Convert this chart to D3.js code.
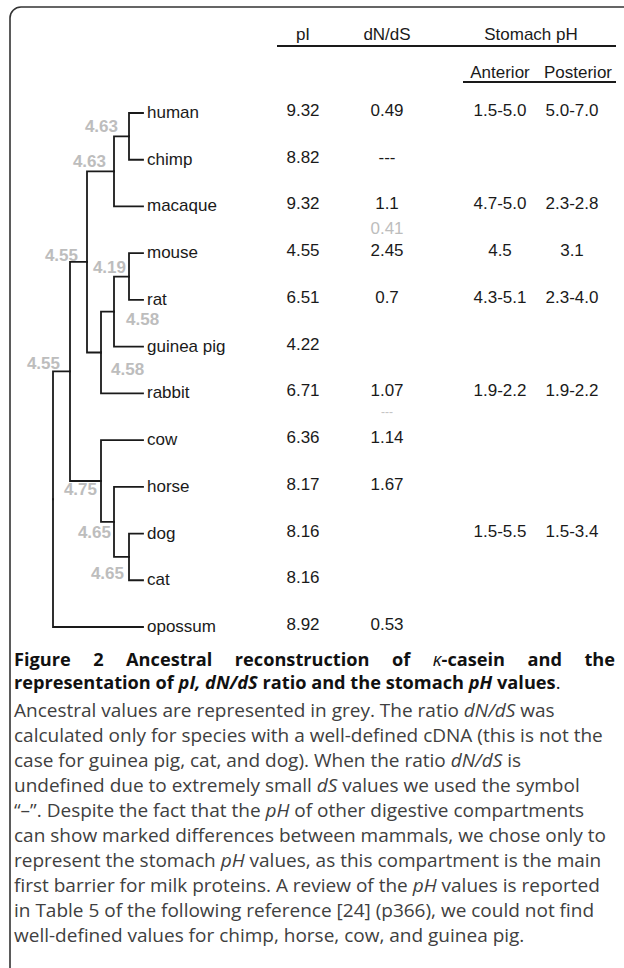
<!DOCTYPE html>
<html>
<head>
<meta charset="utf-8">
<script src="https://cdn.jsdelivr.net/npm/d3@7"></script>
<style>
  html, body { margin: 0; padding: 0; background: #fff; }
  svg { display: block; }
</style>
</head>
<body>
<svg id="chart" width="624" height="968"></svg>
<script>
// ---------------- DATA ----------------
const species = ["human", "chimp", "macaque", "mouse", "rat", "guinea pig", "rabbit", "cow", "horse", "dog", "cat", "opossum"];
const pI = ["9.32", "8.82", "9.32", "4.55", "6.51", "4.22", "6.71", "6.36", "8.17", "8.16", "8.16", "8.92"];
const dNdS = ["0.49", "---", "1.1", "2.45", "0.7", "", "1.07", "1.14", "1.67", "", "", "0.53"];
const phAnterior = ["1.5-5.0", "", "4.7-5.0", "4.5", "4.3-5.1", "", "1.9-2.2", "", "", "1.5-5.5", "", ""];
const phPosterior = ["5.0-7.0", "", "2.3-2.8", "3.1", "2.3-4.0", "", "1.9-2.2", "", "", "1.5-3.4", "", ""];
// ancestral dN/dS values (grey) shown between two rows: [value, rowAbove, rowBelow]
const ancestralDNdS = [["0.41", "macaque", "mouse"], ["---", "rabbit", "cow"]];

// tree topology: (((((human,chimp),macaque),(((mouse,rat),guinea pig),rabbit)),(cow,(horse,(dog,cat)))),opossum)
const tree = {id: "root", children: [
  {id: "A", children: [
    {id: "Euarchontoglires", children: [
      {id: "Primates", children: [
        {id: "HomPan", children: [{id: "human"}, {id: "chimp"}]},
        {id: "macaque"}]},
      {id: "Glires", children: [
        {id: "Rodentia", children: [
          {id: "Murinae", children: [{id: "mouse"}, {id: "rat"}]},
          {id: "guinea pig"}]},
        {id: "rabbit"}]}]},
    {id: "Laurasiatheria", children: [
      {id: "cow"},
      {id: "HorseCarn", children: [
        {id: "horse"},
        {id: "Carnivora", children: [{id: "dog"}, {id: "cat"}]}]}]}]},
  {id: "opossum"}]};
// ancestral pI reconstructed at internal nodes
const ancestralNodes = ["HomPan", "Primates", "Euarchontoglires", "Murinae", "Rodentia", "Glires", "A", "Laurasiatheria", "HorseCarn", "Carnivora"];
const ancestralPI = ["4.63", "4.63", "4.55", "4.19", "4.58", "4.58", "4.55", "4.75", "4.65", "4.65"];

const columns = ["pI", "dN/dS", "Anterior", "Posterior"];
const columnValues = [pI, dNdS, phAnterior, phPosterior];

// caption segments: [text, bold, italic]
const captionTitle = [
  [["Figure 2 Ancestral reconstruction of ", 1, 0], ["κ", 0, 1], ["-casein and the", 1, 0]],
  [["representation of ", 1, 0], ["pI, dN/dS", 1, 1], [" ratio and the stomach ", 1, 0], ["pH", 1, 1], [" values", 1, 0], [".", 0, 0]]
];
const captionBody = [
  [["Ancestral values are represented in grey. The ratio ", 0, 0], ["dN/dS", 0, 1], [" was", 0, 0]],
  [["calculated only for species with a well-defined cDNA (this is not the", 0, 0]],
  [["case for guinea pig, cat, and dog). When the ratio ", 0, 0], ["dN/dS", 0, 1], [" is", 0, 0]],
  [["undefined due to extremely small ", 0, 0], ["dS", 0, 1], [" values we used the symbol", 0, 0]],
  [["“–”. Despite the fact that the ", 0, 0], ["pH", 0, 1], [" of other digestive compartments", 0, 0]],
  [["can show marked differences between mammals, we chose only to", 0, 0]],
  [["represent the stomach ", 0, 0], ["pH", 0, 1], [" values, as this compartment is the main", 0, 0]],
  [["first barrier for milk proteins. A review of the ", 0, 0], ["pH", 0, 1], [" values is reported", 0, 0]],
  [["in Table 5 of the following reference [24] (p366), we could not find", 0, 0]],
  [["well-defined values for chimp, horse, cow, and guinea pig.", 0, 0]]
];

// ---------------- LAYOUT / STYLE ----------------
const FONT = "'Liberation Sans', Arial, sans-serif";
const CAPFONT = "'Open Sans', 'Noto Sans', sans-serif";
const FS = 17;
const GREY = "#bdbdbd";
const INK = "#1a1a1a";

const svg = d3.select("#chart");

// frame (rounded, open to the right/bottom like the cropped figure)
svg.append("rect")
  .attr("x", 10).attr("y", 7).attr("width", 700).attr("height", 1000)
  .attr("rx", 11).attr("ry", 11)
  .attr("fill", "none").attr("stroke", "#333").attr("stroke-width", 1.6);

// scales
const y = d3.scalePoint().domain(species).range([113, 627]);
const xHeight = d3.scaleLinear().domain([0, 1, 2, 3, 4, 5, 6]).range([143, 129, 114, 101, 87, 70, 53]);
const xCol = d3.scaleOrdinal().domain(columns).range([303, 387, 500, 572]);

// tree
const root = d3.hierarchy(tree);
root.eachAfter(n => {
  n.px = xHeight(n.height);
  if (!n.children) n.py = y(n.data.id);
  else n.py = (n.children[0].py + n.children[n.children.length - 1].py) / 2;
});

const gTree = svg.append("g");
gTree.selectAll("path.link")
  .data(root.descendants().filter(d => d.parent))
  .join("path")
  .attr("class", "link")
  .attr("d", d => `M${d.parent.px},${d.parent.py}V${d.py}H${d.px}`)
  .attr("fill", "none")
  .attr("stroke", INK)
  .attr("stroke-width", 1.8)
  .attr("stroke-linecap", "square");

gTree.selectAll("text.leaf")
  .data(root.leaves())
  .join("text")
  .attr("class", "leaf")
  .attr("x", d => d.px + 4)
  .attr("y", d => d.py + 5)
  .attr("font-family", FONT).attr("font-size", FS).attr("fill", INK)
  .text(d => d.data.id);

// ancestral pI labels: offsets [dx, dy(center), anchor]
const labelOffsets = {
  HomPan: [-11, -10, "end"], Primates: [-8, -10, "end"], Euarchontoglires: [-9, -7, "end"],
  Murinae: [-3, -10, "end"], Rodentia: [12, 7, "start"], Glires: [10, 17, "start"],
  A: [-10, -8, "end"], Laurasiatheria: [-4, 8, "end"], HorseCarn: [-3, 10, "end"], Carnivora: [-5, 16, "end"]
};
const nodeById = new Map(root.descendants().map(n => [n.data.id, n]));
gTree.selectAll("text.anc")
  .data(ancestralNodes.map((id, i) => ({id, v: ancestralPI[i], n: nodeById.get(id)})))
  .join("text")
  .attr("class", "anc")
  .attr("x", d => d.n.px + labelOffsets[d.id][0])
  .attr("y", d => d.n.py + labelOffsets[d.id][1] + 6)
  .attr("text-anchor", d => labelOffsets[d.id][2])
  .attr("font-family", FONT).attr("font-size", FS).attr("font-weight", "bold").attr("fill", GREY)
  .text(d => d.v);

// table header
const gHead = svg.append("g").attr("font-family", FONT).attr("font-size", FS).attr("fill", INK).attr("text-anchor", "middle");
gHead.append("text").attr("x", xCol("pI")).attr("y", 40).text("pI");
gHead.append("text").attr("x", xCol("dN/dS")).attr("y", 40).text("dN/dS");
gHead.append("text").attr("x", 531).attr("y", 40).text("Stomach pH");
gHead.append("text").attr("x", xCol("Anterior")).attr("y", 78).text("Anterior");
gHead.append("text").attr("x", xCol("Posterior") + 6).attr("y", 78).text("Posterior");
gHead.append("line").attr("x1", 277).attr("x2", 616).attr("y1", 46).attr("y2", 46).attr("stroke", INK).attr("stroke-width", 1.8);
gHead.append("line").attr("x1", 463).attr("x2", 616).attr("y1", 82).attr("y2", 82).attr("stroke", INK).attr("stroke-width", 1.8);

// table values
const cells = [];
columns.forEach((c, ci) => species.forEach((s, si) => {
  const v = columnValues[ci][si];
  if (v) cells.push({c, s, v});
}));
svg.append("g").selectAll("text")
  .data(cells)
  .join("text")
  .attr("x", d => xCol(d.c))
  .attr("y", d => y(d.s) + 3)
  .attr("text-anchor", "middle")
  .attr("font-family", FONT).attr("font-size", FS).attr("fill", INK)
  .text(d => d.v);

// ancestral dN/dS (grey)
svg.append("g").selectAll("text")
  .data(ancestralDNdS)
  .join("text")
  .attr("x", xCol("dN/dS"))
  .attr("y", d => (y(d[1]) + y(d[2])) / 2 + (d[0] === "---" ? -1 : 4))
  .attr("text-anchor", "middle")
  .attr("font-family", FONT)
  .attr("font-size", d => d[0] === "---" ? 12 : FS)
  .attr("fill", d => d[0] === "---" ? "#c4c4c4" : GREY)
  .text(d => d[0]);

// caption
function addLine(g, segs, x, yy, size, color) {
  const t = g.append("text").attr("x", x).attr("y", yy)
    .attr("font-family", CAPFONT).attr("font-size", size).attr("fill", color)
    .style("white-space", "pre");
  segs.forEach(s => t.append("tspan")
    .attr("font-weight", s[1] ? "bold" : "normal")
    .attr("font-style", s[2] ? "italic" : "normal")
    .text(s[0]));
  return t;
}
const gCap = svg.append("g");
const CAPX = 14;
const t1 = addLine(gCap, captionTitle[0], CAPX, 666, 18.2, "#111");
// justify first title line
const nat = t1.node().getComputedTextLength();
const spaces = captionTitle[0].map(s => s[0]).join("").split(" ").length - 1;
t1.style("word-spacing", ((615 - CAPX - nat) / spaces) + "px");
addLine(gCap, captionTitle[1], CAPX, 689, 18.2, "#111");
captionBody.forEach((segs, i) => addLine(gCap, segs, CAPX, 717 + i * 25, 19, "#404040"));
</script>
</body>
</html>
